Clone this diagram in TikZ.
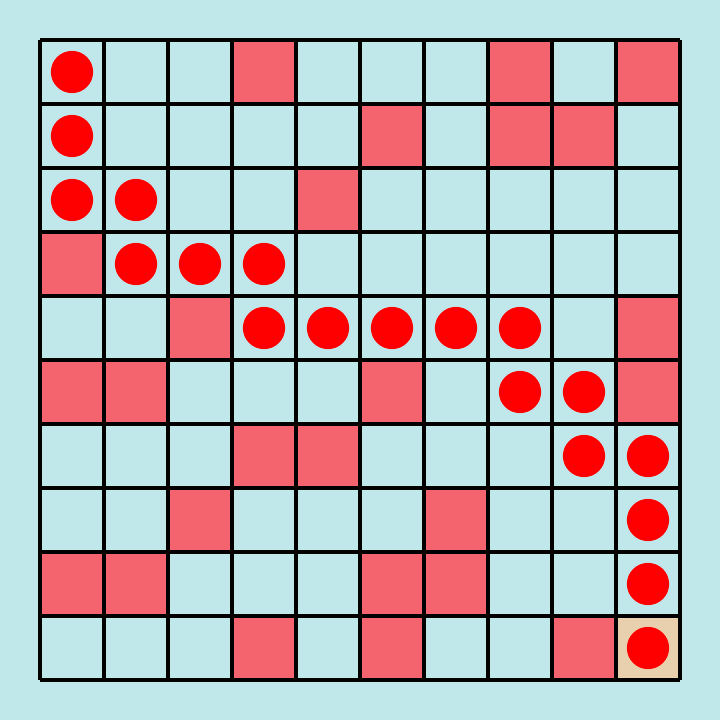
\documentclass[tikz,border=0pt]{standalone}
\usepackage{tikz}

\definecolor{boardbg}{HTML}{C0E7E9}
\definecolor{wallred}{HTML}{F4646E}
\definecolor{goaltan}{HTML}{E8CFAE}
\definecolor{stonered}{HTML}{FF0000}

\tikzset{
  wall/.style={fill=wallred},
  stone/.style={fill=stonered},
  gridline/.style={line width=2.2pt}
}

\begin{document}
\begin{tikzpicture}
  % background and frame of the page
  \fill[boardbg] (0,0) rectangle (11.25,11.25);
  \useasboundingbox (0,0) rectangle (11.25,11.25);
  \begin{scope}[shift={(0.625,0.625)}]
  % cell (c,r) has its lower left corner at (c, 9-r)
  \foreach \c/\r in {3/0,7/0,9/0, 5/1,7/1,8/1, 4/2, 0/3, 2/4,9/4,
                     0/5,1/5,5/5,9/5, 3/6,4/6, 2/7,6/7,
                     0/8,1/8,5/8,6/8, 3/9,5/9,8/9}
    \fill[wall] (\c,9-\r) rectangle ++(1,1);
  \fill[goaltan] (9,0) rectangle ++(1,1);
  % the grid
  \draw[gridline] (0,0) grid (10,10);
  % the path of stones
  \foreach \c/\r in {0/0, 0/1, 0/2,1/2, 1/3,2/3,3/3,
                     3/4,4/4,5/4,6/4,7/4, 7/5,8/5, 8/6,9/6,
                     9/7, 9/8, 9/9}
    \fill[stone] (0.5+\c,9.5-\r) circle (0.33);
  \end{scope}
\end{tikzpicture}
\end{document}
